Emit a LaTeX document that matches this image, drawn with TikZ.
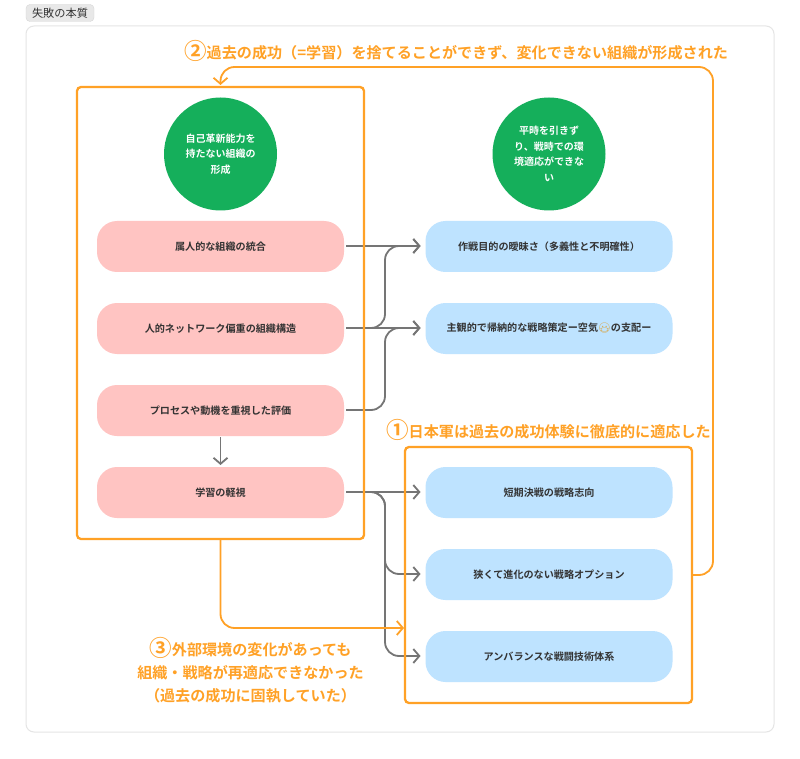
\documentclass[tikz,border=0pt]{standalone}
\usepackage{fontspec}
\usetikzlibrary{arrows.meta,calc}
\setmainfont{Noto Sans CJK JP}[BoldFont={Noto Sans CJK JP Bold}]
\newfontfamily\emojifont{Noto Emoji}
\definecolor{oran}{HTML}{FFA126}
\definecolor{grn}{HTML}{15AF5B}
\definecolor{pnk}{HTML}{FFC4C2}
\definecolor{blu}{HTML}{BEE3FF}
\definecolor{lin}{HTML}{757575}
\definecolor{txt}{HTML}{333333}
\definecolor{emo}{HTML}{D9A441}
\tikzset{
  x=1pt,y=-1pt,
  pill/.style={rounded corners=20pt,minimum width=247pt,minimum height=51pt,inner sep=0pt,outer sep=0pt,text=txt,font=\fontsize{10.1}{16}\selectfont\bfseries},
  pinkpill/.style={pill,fill=pnk},
  bluepill/.style={pill,fill=blu},
  disc/.style={circle,fill=grn,minimum size=113pt,inner sep=0pt,outer sep=0pt,text=white,align=center,text width=76pt,font=\fontsize{10}{15.5}\selectfont\bfseries},
  orbox/.style={draw=oran,line width=2.3pt,rounded corners=4pt,inner sep=0pt,outer sep=0pt},
  orlabel/.style={text=oran,inner sep=0pt,font=\fontsize{15.1}{23}\selectfont\bfseries},
  graylink/.style={draw=lin,line width=1.8pt,rounded corners=14pt,-{Straight Barb[length=6pt,width=14pt,line width=1.8pt]}},
  orlink/.style={draw=oran,line width=1.8pt,rounded corners=14pt,-{Straight Barb[length=6pt,width=14pt,line width=1.8pt]}},
}
\newcommand{\numsign}[1]{{\fontsize{22.5}{23}\selectfont\raisebox{-1.5pt}{#1}}}
\begin{document}
\begin{tikzpicture}
\useasboundingbox (0,0) rectangle (800,759);
\fill[white] (0,0) rectangle (800,759);
\node[draw=black!16,fill=black!9,rounded corners=4pt,minimum width=68pt,minimum height=17pt,inner sep=0pt,text=txt,font=\fontsize{11.2}{12}\selectfont] (tag) at (60,13) {失敗の本質};
\node[draw=black!10,line width=1pt,rounded corners=8pt,minimum width=748pt,minimum height=706pt,inner sep=0pt] (panel) at (400,379) {};

\node[disc] (c1) at (220.5,154) {自己革新能力を\\持たない組織の\\形成};
\node[disc] (c2) at (549,154) {平時を引きず\\り、戦時での環\\境適応ができな\\い};

\node[pinkpill] (p1) at (220.5,246.5) {属人的な組織の統合};
\node[pinkpill] (p2) at (220.5,328.5) {人的ネットワーク偏重の組織構造};
\node[pinkpill] (p3) at (220.5,410.5) {プロセスや動機を重視した評価};
\node[pinkpill] (p4) at (220.5,492.5) {学習の軽視};

\node[bluepill] (b1) at (549,246.5) {作戦目的の曖昧さ（多義性と不明確性）};
\node[bluepill] (b2) at (549,328.5) {主観的で帰納的な戦略策定ー空気{\emojifont\color{emo}😷}の支配ー};
\node[bluepill] (b3) at (549,492.5) {短期決戦の戦略志向};
\node[bluepill] (b4) at (549,574.5) {狭くて進化のない戦略オプション};
\node[bluepill] (b5) at (549,656.5) {アンバランスな戦闘技術体系};

% grey connectors
\draw[graylink] ([shift={(2pt,.5pt)}]p1.east) -- ([shift={(-5pt,.5pt)}]b1.west);
\draw[graylink] ([shift={(2pt,.5pt)}]p2.east) -- ([shift={(-5pt,.5pt)}]b2.west);
\draw[graylink] ([shift={(2pt,.5pt)}]p2.east) -- (385,328) -- (385,246) -- ([shift={(-5pt,.5pt)}]b1.west);
\draw[graylink] ([shift={(2pt,.5pt)}]p3.east) -- (385,410) -- (385,328) -- ([shift={(-5pt,.5pt)}]b2.west);
\draw[graylink] ([shift={(2pt,.5pt)}]p4.east) -- ([shift={(-5pt,.5pt)}]b3.west);
\draw[graylink] ([shift={(2pt,.5pt)}]p4.east) -- (385,492) -- (385,574) -- ([shift={(-5pt,.5pt)}]b4.west);
\draw[graylink] ([shift={(2pt,.5pt)}]p4.east) -- (385,492) -- (385,656) -- ([shift={(-5pt,.5pt)}]b5.west);
\draw[graylink] ([yshift=-1pt]p3.south) -- ([yshift=2pt]p4.north);

% orange frames
\node[orbox,minimum width=287pt,minimum height=452pt] (lf) at (220.5,313) {};
\node[orbox,minimum width=287pt,minimum height=256pt] (rf) at (548.5,575) {};
\coordinate (rfin) at (404,628);
\draw[orlink] (rf.east) -- (713,575) -- (713,67) -- (220.5,67) -- ([yshift=2pt]lf.north);
\draw[orlink] (lf.south) -- (220.5,628) -- (rfin);

% orange labels
\node[orlabel,anchor=west] (l2) at (184,51) {\numsign{②}過去の成功（=学習）を捨てることができず、変化できない組織が形成された};
\node[orlabel,anchor=west] (l1) at (386,430) {\numsign{①}日本軍は過去の成功体験に徹底的に適応した};
\node[orlabel,align=center] (l3) at (250.5,670) {\numsign{③}外部環境の変化があっても\\組織・戦略が再適応できなかった\\（過去の成功に固執していた）};
\end{tikzpicture}
\end{document}
